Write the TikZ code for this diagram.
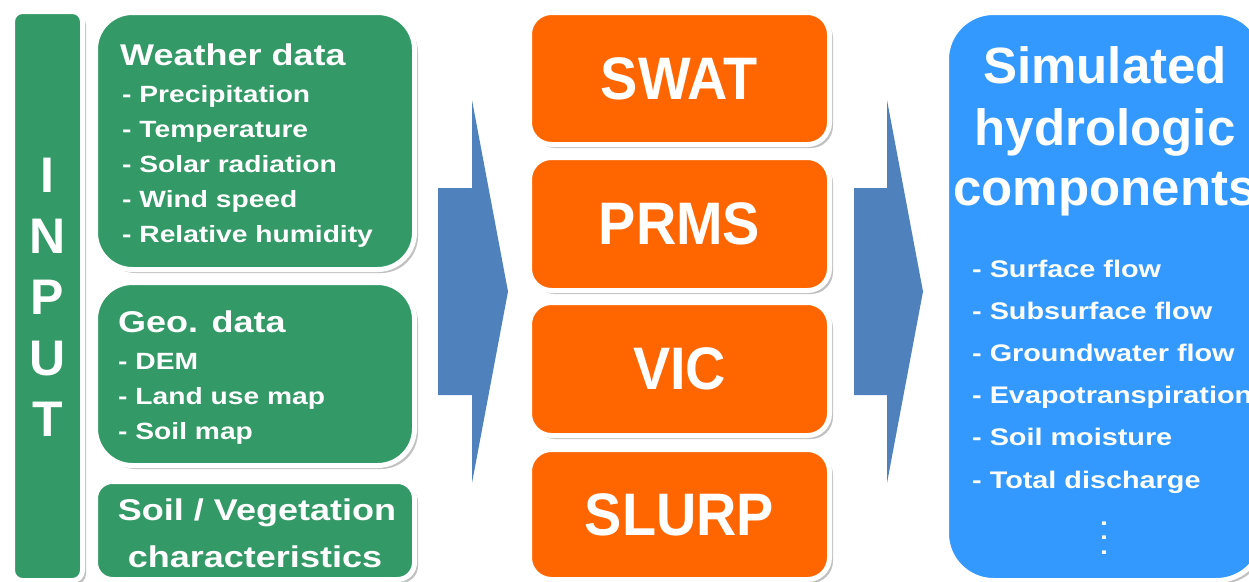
\documentclass[tikz,border=0pt]{standalone}
\usepackage{fontspec}
\setmainfont{Liberation Sans}
\newfontfamily\widefont[FakeStretch=1.2]{Liberation Sans}
\newfontfamily\narrowfont[FakeStretch=0.93]{Liberation Sans}
\usetikzlibrary{shadows}
\definecolor{inputgreen}{HTML}{339966}
\definecolor{modelorange}{HTML}{FF6600}
\definecolor{outputblue}{HTML}{3399FF}
\definecolor{flowblue}{HTML}{4F81BD}
\tikzset{
  card/.style={draw=white, line width=5pt, inner sep=0pt, outer sep=0pt,
    drop shadow={shadow xshift=3.5pt, shadow yshift=-3.5pt, fill=black!35, opacity=.7}},
  greencard/.style={card, fill=inputgreen, minimum width=319pt},
  modelcard/.style={card, fill=modelorange, minimum width=300pt, rounded corners=22pt,
    text=white, font=\narrowfont\bfseries\fontsize{60}{60}\selectfont},
  title/.style={text=white, inner sep=0pt, anchor=base west, font=\widefont\bfseries\fontsize{30}{30}\selectfont},
  item/.style={text=white, inner sep=0pt, anchor=base west, font=\widefont\bfseries\fontsize{23.5}{23.5}\selectfont},
  result/.style={item, font=\widefont\bfseries\fontsize{24}{24}\selectfont},
  letter/.style={text=white, inner sep=0pt, anchor=base, font=\bfseries\fontsize{50}{50}\selectfont},
  headline/.style={text=white, inner sep=0pt, anchor=base, font=\bfseries\fontsize{51}{51}\selectfont},
  flow/.style={fill=flowblue}
}
\begin{document}
\begin{tikzpicture}[x=1pt,y=-1pt]
    \useasboundingbox (0,0) rectangle (1249,581);
    \clip (0,0) rectangle (1249,581);
    % input column
    \node[card, fill=inputgreen, rounded corners=10pt, minimum width=70pt, minimum height=569pt] (input) at (47.5,296) {};
    \foreach \l [count=\i from 0] in {I,N,P,U,T}
        \node[letter] (input\l) at (47.5,192+61*\i) {\l};

    \node[greencard, rounded corners=37pt, minimum height=257pt] (weather) at (255,141) {};
    \node[title] (weathertitle) at (120,65) {Weather data};
    \foreach \t [count=\i from 0] in {Precipitation,Temperature,Solar radiation,Wind speed,Relative humidity}
        \node[item] (weather\i) at (122,102+35*\i) {- \t};

    \node[greencard, rounded corners=37pt, minimum height=183pt] (geo) at (255,374) {};
    \node[title] (geotitle) at (118,332) {Geo. data};
    \foreach \t [count=\i from 0] in {DEM,Land use map,Soil map}
        \node[item] (geo\i) at (118,369+35*\i) {- \t};

    \node[greencard, rounded corners=17pt, minimum height=98pt] (soilveg) at (255,530.5) {};
    \node[title, anchor=base] (soilvegtop) at (257,520) {Soil / Vegetation};
    \node[title, anchor=base] (soilvegbottom) at (255,567) {characteristics};

    % arrows
    \path[flow] (438,188) -- (472,188) -- (472,100) -- (508,291.5) -- (472,483) -- (472,395) -- (438,395) -- cycle;
    \path[flow] (854,188) -- (887,188) -- (887,100) -- (923,291.5) -- (887,483) -- (887,395) -- (854,395) -- cycle;

    % models
    \node[modelcard, minimum height=132pt] (swat) at (679.5,78.5) {SWAT};
    \node[modelcard, minimum height=133pt] (prms) at (679.5,224) {PRMS};
    \node[modelcard, minimum height=133pt] (vic) at (679.5,369) {VIC};
    \node[modelcard, minimum height=130pt] (slurp) at (679.5,514.5) {SLURP};

    % output
    \node[card, fill=outputblue, rounded corners=47pt, minimum width=317pt, minimum height=568pt] (output) at (1105,296.5) {};
    \node[headline] (outputtitle1) at (1105,83) {Simulated};
    \node[headline] (outputtitle2) at (1105,145) {hydrologic};
    \node[headline] (outputtitle3) at (1105,205) {components};
    \foreach \t [count=\i from 0] in {Surface flow,Subsurface flow,Groundwater flow,Evapotranspiration,Soil moisture,Total discharge}
        \node[result] (output\i) at (972,277+42.2*\i) {- \t};
    \foreach \y [count=\i] in {525,539,554}
        \node[result, anchor=base] (dot\i) at (1104,\y) {.};
\end{tikzpicture}
\end{document}
